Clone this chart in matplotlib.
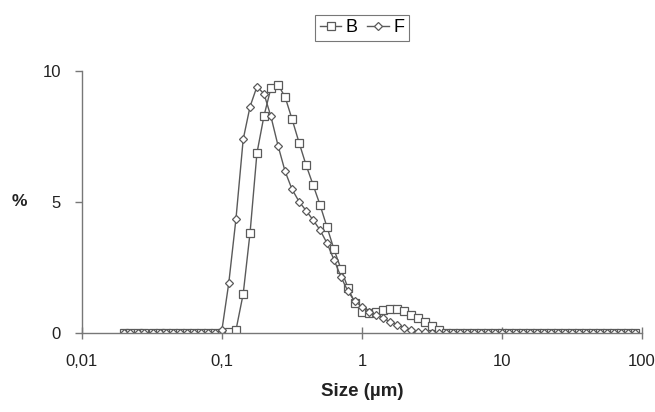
import matplotlib.pyplot as plt
from matplotlib.ticker import FixedLocator, FixedFormatter, NullLocator

plt.rcParams['font.family'] = ['Liberation Sans', 'DejaVu Sans']

# particle size classes (um)
sizes = [0.020, 0.022, 0.025, 0.028, 0.032, 0.036, 0.040, 0.045, 0.050, 0.056,
         0.063, 0.071, 0.080, 0.089, 0.100, 0.112, 0.126, 0.142, 0.159, 0.178,
         0.200, 0.224, 0.252, 0.283, 0.317, 0.356, 0.399, 0.448, 0.502, 0.564,
         0.632, 0.710, 0.796, 0.893, 1.002, 1.125, 1.262, 1.416, 1.589, 1.783,
         2.000, 2.244, 2.518, 2.825, 3.170, 3.557, 3.991, 4.477, 5.024, 5.637,
         6.325, 7.096, 7.962, 8.934, 10.024, 11.247, 12.619, 14.159, 15.887, 17.825,
         20.000, 22.440, 25.179, 28.251, 31.698, 35.566, 39.905, 44.774, 50.238, 56.368,
         63.246, 70.963, 79.621, 89.337]

B = [0] * 14 + [0.0, 0.05, 0.1, 1.49, 3.83, 6.86, 8.29, 9.34, 9.47, 9.0,
                8.16, 7.26, 6.41, 5.65, 4.89, 4.03, 3.19, 2.43, 1.71, 1.13,
                0.78, 0.75, 0.81, 0.88, 0.92, 0.9, 0.82, 0.69, 0.56, 0.43,
                0.27, 0.11] + [0] * 28

F = [0] * 14 + [0.1, 1.9, 4.34, 7.39, 8.64, 9.40, 9.12, 8.26, 7.14, 6.16,
                5.48, 5.01, 4.67, 4.31, 3.93, 3.42, 2.79, 2.13, 1.58, 1.2,
                1.0, 0.81, 0.7, 0.56, 0.43, 0.31, 0.2, 0.11, 0.05, 0.02] + [0] * 30

xticks = [0.01, 0.1, 1, 10, 100]
xticklabels = ['0,01', '0,1', '1', '10', '100']
yticks = [0, 5, 10]

line_col = '#5a5a5a'

fig = plt.figure(figsize=(6.55, 4.12), dpi=100)
ax = fig.add_axes([0.125, 0.192, 0.855, 0.636])

ax.plot(sizes, B, color=line_col, lw=1.0, marker='s', ms=5.2,
        mfc='white', mec=line_col, mew=0.9, label='B')
ax.plot(sizes, F, color=line_col, lw=1.0, marker='D', ms=4.0,
        mfc='white', mec=line_col, mew=0.9, label='F')

ax.set_xscale('log')
ax.set_xlim(0.01, 100)
ax.set_ylim(0, 10)
ax.xaxis.set_major_locator(FixedLocator(xticks))
ax.xaxis.set_major_formatter(FixedFormatter(xticklabels))
ax.xaxis.set_minor_locator(NullLocator())
ax.set_yticks(yticks)

for s in ['top', 'right']:
    ax.spines[s].set_visible(False)
for s in ['left', 'bottom']:
    ax.spines[s].set_color('#777777')
    ax.spines[s].set_linewidth(1.0)

ax.tick_params(axis='x', direction='inout', length=8, width=1, color='#777777',
               labelsize=12, pad=11, labelcolor='#222222')
ax.tick_params(axis='y', direction='out', length=5, width=1, color='#777777',
               labelsize=12, pad=10, labelcolor='#222222')

ax.set_xlabel('Size (\u00b5m)', fontsize=13.5, fontweight='bold', labelpad=10,
              color='#222222')
ax.set_ylabel('%', fontsize=12.5, fontweight='bold', rotation=0,
              color='#222222')
ax.yaxis.set_label_coords(-0.112, 0.5)
ax.yaxis.label.set_verticalalignment('center')

leg = ax.legend(loc='upper center', bbox_to_anchor=(0.5, 1.214), ncol=2,
                frameon=True, fancybox=False, fontsize=13, handlelength=1.2,
                handletextpad=0.25, columnspacing=0.5, borderpad=0.25,
                borderaxespad=0)
leg.get_frame().set_edgecolor('#555555')
leg.get_frame().set_linewidth(0.8)

fig.savefig('out.png', dpi=100)
